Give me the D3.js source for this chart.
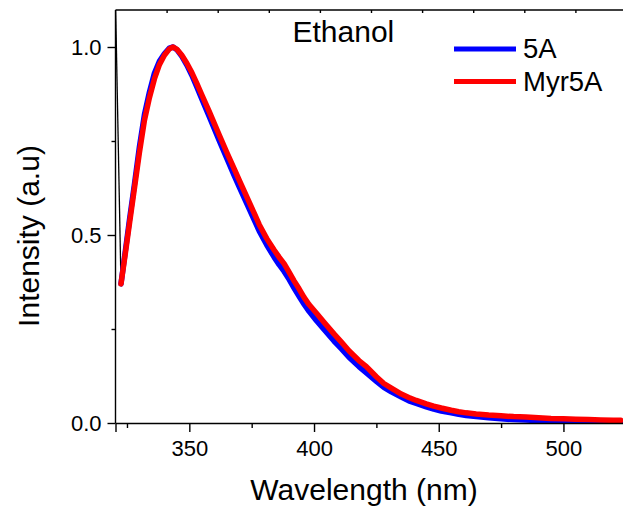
<!DOCTYPE html>
<html>
<head>
<meta charset="utf-8">
<script src="https://cdn.jsdelivr.net/npm/d3@7"></script>
<style>
  html, body { margin: 0; padding: 0; background: #fff; }
  svg { display: block; font-family: "Liberation Sans", Arial, Helvetica, sans-serif; }
</style>
</head>
<body>
<svg id="chart" width="623" height="511"></svg>
<script>
// Emission wavelengths (nm)
const wavelength = [322.6, 324, 326, 328, 330, 332, 334, 336, 338, 340, 342, 343.5, 345, 347, 349, 351, 353, 355, 358, 360,
  362, 365, 368, 370, 373, 376, 378, 381, 384, 386, 388, 390, 392, 394, 396, 398, 401, 404, 408, 411,
  414, 418, 421, 425, 428, 431, 435, 438, 441, 445, 448, 451, 455, 458, 461, 465, 470, 475, 480, 485,
  490, 495, 500, 505, 510, 515, 520, 523];

// Normalised intensity, 5A
const intensity5A = [0.37, 0.44, 0.54, 0.635, 0.735, 0.82, 0.88, 0.93, 0.962, 0.982, 0.997, 1.0, 0.993, 0.975, 0.952, 0.925, 0.894, 0.862, 0.815, 0.783,
  0.751, 0.704, 0.658, 0.628, 0.584, 0.540, 0.511, 0.474, 0.441, 0.421, 0.403, 0.382, 0.359, 0.337, 0.316, 0.297, 0.272, 0.249, 0.218, 0.197,
  0.175, 0.150, 0.133, 0.111, 0.095, 0.083, 0.069, 0.059, 0.052, 0.043, 0.037, 0.032, 0.027, 0.023, 0.020, 0.017, 0.014, 0.011, 0.009, 0.008,
  0.006, 0.005, 0.004, 0.004, 0.003, 0.003, 0.003, 0.003];

// Normalised intensity, Myr5A
const intensityMyr5A = [0.37, 0.435, 0.53, 0.625, 0.72, 0.805, 0.865, 0.915, 0.953, 0.978, 0.995, 1.0, 0.994, 0.978, 0.957, 0.932, 0.903, 0.873, 0.828, 0.797,
  0.766, 0.72, 0.676, 0.646, 0.602, 0.558, 0.528, 0.491, 0.460, 0.441, 0.424, 0.401, 0.378, 0.357, 0.334, 0.315, 0.292, 0.268, 0.237, 0.215,
  0.192, 0.166, 0.15, 0.123, 0.105, 0.093, 0.077, 0.068, 0.060, 0.051, 0.045, 0.040, 0.034, 0.030, 0.027, 0.024, 0.021, 0.019, 0.017, 0.016,
  0.014, 0.012, 0.011, 0.010, 0.009, 0.008, 0.007, 0.007];

// Edge of the excitation scatter running off the top of the frame
const scatterWavelength = [320.4, 322.6];
const scatterIntensity = [1.12, 0.37];

const seriesNames = ["5A", "Myr5A"];
const seriesColors = ["#0000ff", "#ff0000"];

const xMajorTicks = [350, 400, 450, 500];
const xMinorTicks = [325, 375, 425, 475];
const yMajorTicks = [0.0, 0.5, 1.0];
const yMinorTicks = [0.25, 0.75];
const topTicks = [1, 2, 3, 4, 5, 6, 7, 8, 9];

const plotLeft = 115.5, plotRight = 623.3, plotTop = 10, plotBottom = 423;

const svg = d3.select("#chart");

const x = d3.scaleLinear().domain([320.4, 524]).range([plotLeft, plotRight]);
const y = d3.scaleLinear().domain([0, 1.1]).range([plotBottom, 9.4]);
const xTop = d3.scaleLinear().domain([0, 10]).range([plotLeft, plotLeft + 511]);

// Clip region for the spectra
svg.append("defs").append("clipPath").attr("id", "plot-clip")
  .append("rect").attr("x", plotLeft).attr("y", plotTop)
  .attr("width", plotRight - plotLeft).attr("height", plotBottom - plotTop);

const plot = svg.append("g").attr("clip-path", "url(#plot-clip)");

const line = d3.line().x(d => x(d[0])).y(d => y(d[1]));

plot.append("path")
  .datum(scatterWavelength.map((w, i) => [w, scatterIntensity[i]]))
  .attr("d", line)
  .attr("fill", "none")
  .attr("stroke", "#000")
  .attr("stroke-width", 1.3);

[intensity5A, intensityMyr5A].forEach((vals, k) => {
  plot.append("path")
    .datum(wavelength.map((w, i) => [w, vals[i]]))
    .attr("d", line)
    .attr("fill", "none")
    .attr("stroke", seriesColors[k])
    .attr("stroke-width", 5.5)
    .attr("stroke-linejoin", "round")
    .attr("stroke-linecap", "round");
});

// Axes
function styleAxis(g) {
  g.select(".domain").attr("stroke", "#000").attr("stroke-width", 1.4);
  g.selectAll(".tick line").attr("stroke", "#000").attr("stroke-width", 1.4);
  g.selectAll(".tick text").attr("fill", "#000").attr("font-size", 22)
    .attr("font-family", "'Liberation Sans', Arial, sans-serif");
}

svg.append("g").attr("transform", `translate(0,${plotBottom})`)
  .call(d3.axisBottom(x).tickValues(xMajorTicks).tickSize(9).tickPadding(8).tickFormat(d3.format("d")))
  .call(styleAxis);

svg.append("g").attr("transform", `translate(0,${plotBottom})`)
  .call(d3.axisBottom(x).tickValues(xMinorTicks).tickSize(5).tickFormat(""))
  .call(g => g.select(".domain").remove())
  .call(styleAxis);

svg.append("g").attr("transform", `translate(${plotLeft},0)`)
  .call(d3.axisLeft(y).tickValues(yMajorTicks).tickSize(8).tickPadding(6).tickFormat(d3.format(".1f")))
  .call(g => g.select(".domain").attr("d", `M0,${plotBottom}V${plotTop}`))
  .call(styleAxis);

svg.append("g").attr("transform", `translate(${plotLeft},0)`)
  .call(d3.axisLeft(y).tickValues(yMinorTicks).tickSize(4).tickFormat(""))
  .call(g => g.select(".domain").remove())
  .call(styleAxis);

svg.append("g").attr("transform", `translate(0,${plotTop})`)
  .call(d3.axisTop(xTop).tickValues(topTicks).tickSize(-3).tickFormat(""))
  .call(g => g.select(".domain").attr("d", `M${plotLeft},0H${plotRight}`))
  .call(styleAxis);

// Axis titles
svg.append("text")
  .attr("x", 364).attr("y", 500)
  .attr("text-anchor", "middle")
  .attr("font-size", 30)
  .text("Wavelength (nm)");

svg.append("text")
  .attr("transform", "translate(39,236) rotate(-90)")
  .attr("text-anchor", "middle")
  .attr("font-size", 30)
  .text("Intensity (a.u)");

// Solvent label
svg.append("text")
  .attr("x", 292.5).attr("y", 42)
  .attr("font-size", 30)
  .text("Ethanol");

// Legend
const legendY = [49, 81.5];
seriesNames.forEach((name, k) => {
  svg.append("line")
    .attr("x1", 454).attr("x2", 516)
    .attr("y1", legendY[k]).attr("y2", legendY[k])
    .attr("stroke", seriesColors[k]).attr("stroke-width", 5);
  svg.append("text")
    .attr("x", 523).attr("y", legendY[k] + 9)
    .attr("font-size", 27.5)
    .text(name);
});
</script>
</body>
</html>
